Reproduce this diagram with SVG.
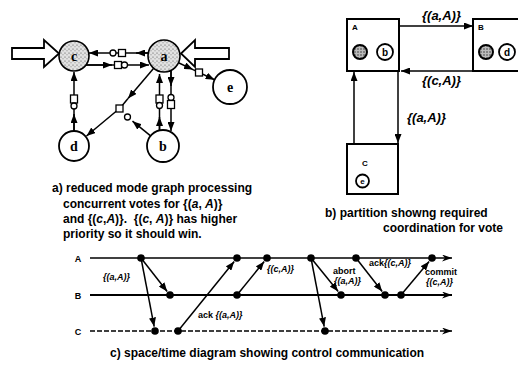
<svg xmlns="http://www.w3.org/2000/svg" width="518" height="370" viewBox="0 0 518 370">
<defs>
<style>
.nd{fill:#fff;stroke:#000;stroke-width:1.8}
.sh{fill:url(#stip);stroke:#000;stroke-width:1.6}
.shd{fill:url(#stip2);stroke:#000;stroke-width:2}
.e{fill:none;stroke:#000;stroke-width:1.5}
.ea{fill:none;stroke:#000;stroke-width:1.5;marker-end:url(#ah)}
.sq{fill:#fff;stroke:#000;stroke-width:1.3}
.nl{font-family:"Liberation Serif","Times New Roman",serif;font-weight:bold;font-size:14px;text-anchor:middle}
.cap{font-family:"Liberation Sans",Arial,sans-serif;font-weight:bold;font-size:12px}
.it{font-style:italic}
.bx{fill:#fff;stroke:#000;stroke-width:2}
.bl{font-family:"Liberation Sans",Arial,sans-serif;font-weight:bold;font-size:8px}
.sl{font-family:"Liberation Sans",Arial,sans-serif;font-weight:bold;font-size:10px;text-anchor:middle}
.pl{font-family:"Liberation Sans",Arial,sans-serif;font-weight:bold;font-style:italic;font-size:13px}
.tl{fill:none;stroke:#000;stroke-width:1.3;marker-end:url(#ta)}
.dot{fill:#000}
.msg{fill:none;stroke:#000;stroke-width:1.5;marker-end:url(#ah)}
.ml{font-family:"Liberation Sans",Arial,sans-serif;font-weight:bold;font-size:9px}
.lab{font-family:"Liberation Sans",Arial,sans-serif;font-weight:bold;font-size:9px;text-anchor:middle}
</style>
<pattern id="stip" width="4" height="4" patternUnits="userSpaceOnUse">
<rect width="4" height="4" fill="#e2e2e2"/>
<circle cx="1" cy="1" r="0.6" fill="#444"/>
<circle cx="3" cy="2.8" r="0.5" fill="#666"/>
</pattern>
<pattern id="stip2" width="3" height="3" patternUnits="userSpaceOnUse">
<rect width="3" height="3" fill="#bbb"/>
<circle cx="1" cy="1" r="0.7" fill="#222"/>
</pattern>
<marker id="ah" markerUnits="userSpaceOnUse" markerWidth="9" markerHeight="7" refX="9" refY="3.5" orient="auto">
<path d="M0,0 L9,3.5 L0,7 z" fill="#000"/>
</marker>
<marker id="ta" markerUnits="userSpaceOnUse" markerWidth="10" markerHeight="7" refX="10" refY="3.5" orient="auto">
<path d="M0,0 L10,3.5 L0,7 L3,3.5 z" fill="#000"/>
</marker>
</defs>
<rect width="518" height="370" fill="#fff"/>

<!-- part a: graph -->
<g id="a-input-left"><path d="M12,48 L44,48 L44,40 L59,53.5 L44,67 L44,59 L12,59 z" fill="#fff" stroke="#000" stroke-width="1.8"/></g>
<g id="a-input-right"><path d="M229,48 L195,48 L195,40 L181,53.5 L195,67 L195,59 L229,59 z" fill="#fff" stroke="#000" stroke-width="1.8"/></g>

<g id="a-connectors">
<!-- a -> c upper -->
<line class="ea" x1="148" y1="53" x2="89" y2="53"/>
<line class="ea" x1="148" y1="53" x2="136" y2="53"/>
<rect class="sq" x="118.5" y="49.5" width="7" height="7"/>
<circle class="sq" cx="113" cy="53" r="3"/>
<!-- c -> a lower -->
<line class="ea" x1="86" y1="65" x2="149" y2="65"/>
<line class="ea" x1="86" y1="65" x2="112" y2="65"/>
<rect class="sq" x="114.5" y="61.5" width="7" height="7"/>
<circle class="sq" cx="124.5" cy="65" r="3"/>
<!-- d -> c -->
<line class="ea" x1="74" y1="131" x2="74" y2="72"/>
<line class="ea" x1="74" y1="131" x2="74" y2="114"/>
<rect class="sq" x="70.5" y="95" width="7" height="8"/>
<circle class="sq" cx="74" cy="106" r="3"/>
<!-- b -> a -->
<line class="ea" x1="159.5" y1="130" x2="159.5" y2="74"/>
<line class="ea" x1="159.5" y1="130" x2="159.5" y2="117"/>
<rect class="sq" x="156" y="95" width="7" height="8"/>
<circle class="sq" cx="159.5" cy="105.5" r="3"/>
<!-- a -> b -->
<line class="ea" x1="171" y1="70" x2="171" y2="131"/>
<line class="ea" x1="171" y1="70" x2="171" y2="86"/>
<circle class="sq" cx="171" cy="97.5" r="3"/>
<rect class="sq" x="167.5" y="100.5" width="7" height="8"/>
<!-- a -> junction -> d -->
<line class="ea" x1="153.7" y1="68.2" x2="128" y2="98.5"/>
<line class="e" x1="128" y1="98.5" x2="121" y2="107"/>
<line class="ea" x1="116.5" y1="111" x2="86.5" y2="136"/>
<!-- b -> junction -->
<line class="ea" x1="150.6" y1="135.9" x2="132.5" y2="121.2"/>
<rect class="sq" x="116" y="105" width="7" height="7"/>
<circle class="sq" cx="127.5" cy="117" r="3"/>
<!-- a -> e -->
<line class="ea" x1="178.5" y1="62.8" x2="193" y2="69.6"/>
<line class="ea" x1="193" y1="69.6" x2="214.6" y2="79.8"/>
<rect class="sq" x="195.5" y="69" width="7" height="7"/>
</g>

<g id="a-node-c"><circle class="sh" cx="74" cy="56" r="15"/><text class="nl" x="74" y="61">c</text></g>
<g id="a-node-a"><circle class="sh" cx="164" cy="56" r="16"/><text class="nl" x="164" y="61">a</text></g>
<g id="a-node-e"><circle class="nd" cx="230" cy="87" r="17"/><text class="nl" x="230" y="92">e</text></g>
<g id="a-node-d"><circle class="nd" cx="74" cy="146" r="15"/><text class="nl" x="74" y="151">d</text></g>
<g id="a-node-b"><circle class="nd" cx="163" cy="146" r="16"/><text class="nl" x="163" y="151">b</text></g>

<g id="a-caption">
<text class="cap" x="52" y="192">a) reduced mode graph processing</text>
<text class="cap" x="63" y="208">concurrent votes for {(<tspan class="it">a</tspan>, <tspan class="it">A</tspan>)}</text>
<text class="cap" x="63" y="223" xml:space="preserve">and {(<tspan class="it">c</tspan>,<tspan class="it">A</tspan>)}.  {(<tspan class="it">c</tspan>, <tspan class="it">A</tspan>)} has higher</text>
<text class="cap" x="63" y="238">priority so it should win.</text>
</g>

<!-- part b: partition -->
<g id="b-connectors">
<line class="msg" x1="399" y1="26" x2="473" y2="26"/>
<line class="msg" x1="473" y1="71" x2="401" y2="71"/>
<line class="msg" x1="398" y1="71" x2="398" y2="143"/>
<line class="msg" x1="354" y1="144" x2="354" y2="72"/>
<text class="pl" x="422" y="20">{(a,A)}</text>
<text class="pl" x="422" y="85">{(c,A)}</text>
<text class="pl" x="407" y="122">{(a,A)}</text>
</g>
<g id="b-box-A">
<rect class="bx" x="347" y="19" width="52" height="52"/>
<text class="bl" x="352" y="30">A</text>
<circle class="shd" cx="360" cy="52" r="7"/>
<circle class="nd" cx="385" cy="52" r="8"/>
<text class="sl" x="385" y="55.5">b</text>
</g>
<g id="b-box-B">
<rect class="bx" x="473" y="19" width="60" height="52"/>
<text class="bl" x="478" y="30">B</text>
<circle class="shd" cx="486" cy="52" r="7"/>
<circle class="nd" cx="507" cy="52" r="8"/>
<text class="sl" x="507" y="55.5">d</text>
</g>
<g id="b-box-C">
<rect class="bx" x="347" y="144" width="51" height="50"/>
<text class="bl" x="362" y="166">C</text>
<circle class="nd" cx="362.5" cy="181" r="6.5"/>
<text class="lab" x="362.5" y="184" style="font-size:8px">e</text>
</g>
<g id="b-caption">
<text class="cap" x="325" y="217">b) partition showng required</text>
<text class="cap" x="383" y="232">coordination for vote</text>
</g>

<!-- part c: space/time -->
<g id="c-timelines">
<line class="tl" x1="90" y1="258" x2="452" y2="258"/>
<line class="tl" x1="90" y1="295" x2="452" y2="295" style="stroke-width:1.8"/>
<line class="tl" x1="90" y1="331" x2="452" y2="331" stroke-dasharray="5,2"/>
<text class="lab" x="78" y="261.5">A</text>
<text class="lab" x="78" y="298.5">B</text>
<text class="lab" x="78" y="334.5">C</text>
</g>
<g id="c-connectors">
<line class="msg" x1="141" y1="258" x2="167.2" y2="291.5"/>
<line class="msg" x1="141" y1="258" x2="154.2" y2="326.6"/>
<line class="msg" x1="178" y1="331" x2="234.2" y2="261.5"/>
<line class="msg" x1="237" y1="295" x2="264.2" y2="261.5"/>
<line class="msg" x1="311" y1="258" x2="338.2" y2="291.5"/>
<line class="msg" x1="311" y1="258" x2="324.2" y2="326.6"/>
<line class="msg" x1="356" y1="258" x2="382.2" y2="291.5"/>
<line class="msg" x1="401" y1="295" x2="429.1" y2="261.6"/>
</g>
<g id="c-events">
<circle class="dot" cx="141" cy="258" r="3.8"/>
<circle class="dot" cx="237" cy="258" r="3.8"/>
<circle class="dot" cx="267" cy="258" r="3.8"/>
<circle class="dot" cx="311" cy="258" r="3.8"/>
<circle class="dot" cx="356" cy="258" r="3.8"/>
<circle class="dot" cx="432" cy="258" r="3.8"/>
<circle class="dot" cx="170" cy="295" r="3.8"/>
<circle class="dot" cx="237" cy="295" r="3.8"/>
<circle class="dot" cx="341" cy="295" r="3.8"/>
<circle class="dot" cx="385" cy="295" r="3.8"/>
<circle class="dot" cx="401" cy="295" r="3.8"/>
<circle class="dot" cx="155" cy="331" r="3.8"/>
<circle class="dot" cx="178" cy="331" r="3.8"/>
<circle class="dot" cx="325" cy="331" r="3.8"/>
</g>
<g id="c-labels">
<text class="ml it" x="103" y="280">{(a,A)}</text>
<text class="ml" x="198" y="318">ack <tspan class="it">{(a,A)}</tspan></text>
<text class="ml it" x="267" y="272">{(c,A)}</text>
<text class="ml" x="333" y="274">abort</text>
<text class="ml it" x="334" y="284">{(a,A)}</text>
<text class="ml" x="369" y="266">ack<tspan class="it">{(c,A)}</tspan></text>
<text class="ml" x="425" y="275">commit</text>
<text class="ml it" x="426" y="285">{(c,A)}</text>
</g>
<g id="c-caption">
<text class="cap" x="110" y="357">c) space/time diagram showing control communication</text>
</g>
</svg>
